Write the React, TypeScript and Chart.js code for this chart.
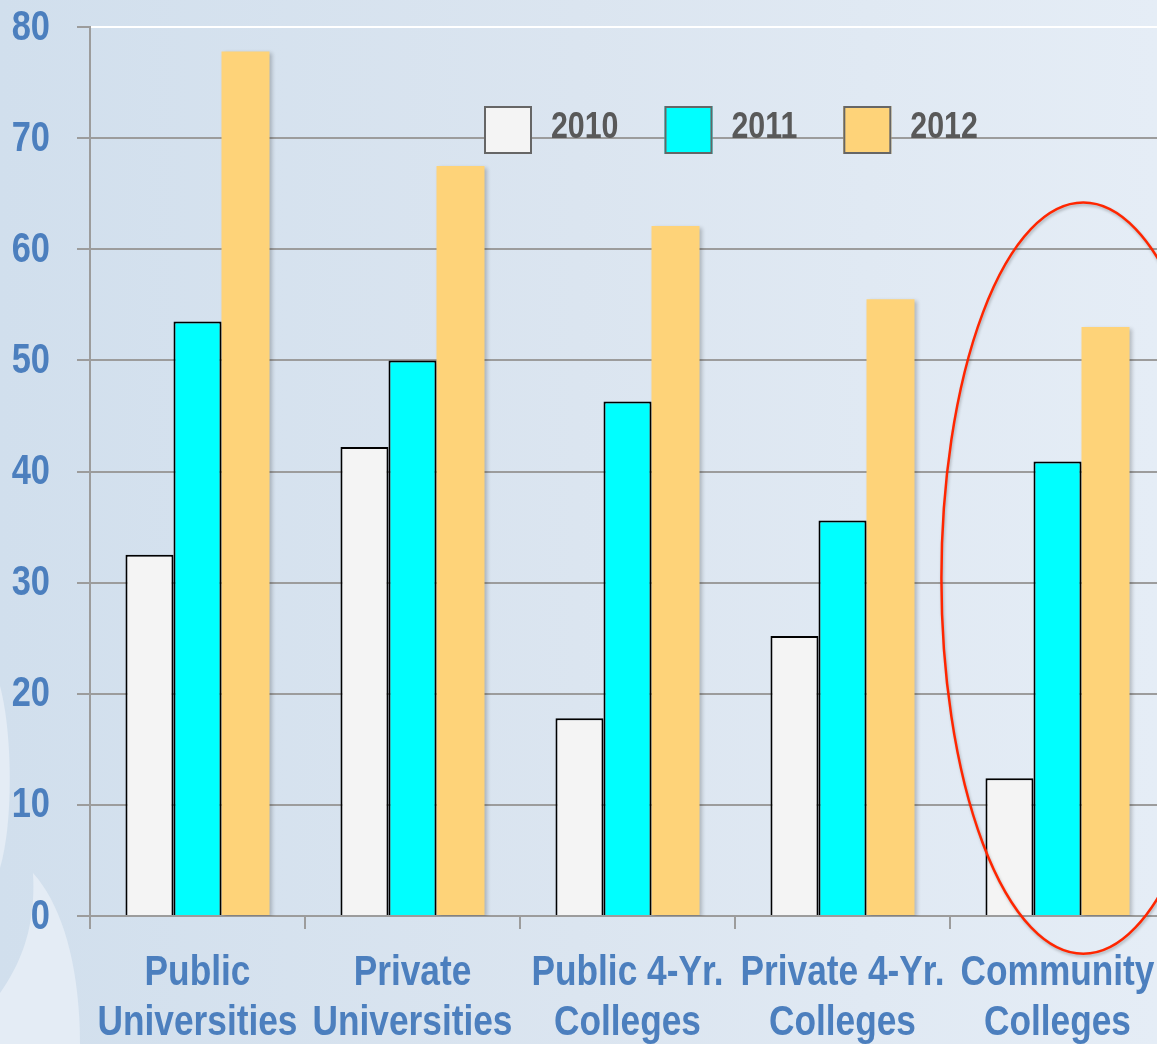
import React, { useEffect, useRef } from 'react';
import { Chart, registerables } from 'chart.js';
Chart.register(...registerables);

const categories: string[][] = [
  ['Public', 'Universities'],
  ['Private', 'Universities'],
  ['Public 4-Yr.', 'Colleges'],
  ['Private 4-Yr.', 'Colleges'],
  ['Community', 'Colleges'],
];
const seriesLabels = ['2010', '2011', '2012'];
const values2010 = [32.5, 42.2, 17.8, 25.2, 12.4];
const values2011 = [53.5, 50.0, 46.3, 35.6, 40.9];
const values2012 = [77.8, 67.5, 62.1, 55.5, 53.0];
const yTicks = [0, 10, 20, 30, 40, 50, 60, 70, 80];

const FONT = "'Liberation Sans', Arial, sans-serif";
const NARROW = 0.82;
const LABEL_BLUE = '#4c7fbe';
const GRID = '#9c9c9c';

function narrowText(ctx: any, text: string, x: number, y: number, align: string) {
  ctx.save();
  ctx.translate(x, y);
  ctx.scale(NARROW, 1);
  ctx.textAlign = align;
  ctx.fillText(text, 0, 0);
  ctx.restore();
}

const axisLabelPlugin = {
  id: 'narrowAxisLabels',
  afterDraw(chart: any) {
    const { ctx } = chart;
    const xs = chart.scales.x;
    const ys = chart.scales.y;
    ctx.save();
    ctx.fillStyle = LABEL_BLUE;
    ctx.textBaseline = 'middle';
    ctx.font = `bold 42px ${FONT}`;
    ys.ticks.forEach((t: any) => {
      narrowText(ctx, String(t.value), ys.right - 40, ys.getPixelForValue(t.value) + 1, 'right');
    });
    ctx.font = `bold 43px ${FONT}`;
    const base = ys.getPixelForValue(0);
    (chart.data.labels as string[][]).forEach((lines, i) => {
      const cx = xs.getPixelForValue(i);
      lines.forEach((line, j) => {
        narrowText(ctx, line, cx, base + 57 + j * 50, 'center');
      });
    });
    ctx.restore();
  },
};

const legendPlugin = {
  id: 'insideLegend',
  afterDraw(chart: any) {
    const { ctx, chartArea } = chart;
    ctx.save();
    ctx.font = `bold 37px ${FONT}`;
    ctx.textBaseline = 'middle';
    let x = chartArea.left + 394;
    const top = chartArea.top + 79;
    chart.data.datasets.forEach((ds: any) => {
      ctx.fillStyle = ds.backgroundColor;
      ctx.fillRect(x, top, 48, 48);
      ctx.lineWidth = 2;
      ctx.strokeStyle = '#666666';
      ctx.strokeRect(x + 1, top + 1, 46, 46);
      ctx.fillStyle = '#595959';
      narrowText(ctx, ds.label, x + 67, top + 22, 'left');
      const w = ctx.measureText(ds.label).width * NARROW;
      x += 67 + w + 46;
    });
    ctx.restore();
  },
};

const ellipsePlugin = {
  id: 'highlightEllipse',
  afterDraw(chart: any) {
    const { ctx } = chart;
    const xs = chart.scales.x;
    const ys = chart.scales.y;
    const catW = xs.getPixelForValue(1) - xs.getPixelForValue(0);
    const cx = xs.getPixelForValue(4) + catW * 0.12;
    const cy = ys.getPixelForValue(30.4);
    const ry = ys.getPixelForValue(0) - ys.getPixelForValue(33.8);
    const rx = catW * 0.66;
    ctx.save();
    ctx.shadowColor = 'rgba(0,0,0,0.25)';
    ctx.shadowBlur = 3;
    ctx.shadowOffsetX = 1;
    ctx.shadowOffsetY = 2;
    ctx.beginPath();
    ctx.ellipse(cx, cy, rx, ry, 0, 0, Math.PI * 2);
    ctx.strokeStyle = '#ff2600';
    ctx.lineWidth = 2.5;
    ctx.stroke();
    ctx.restore();
  },
};

const shadowPlugin = {
  id: 'barShadow',
  beforeDatasetsDraw(chart: any) {
    const ctx = chart.ctx;
    ctx.save();
    ctx.shadowColor = 'rgba(0,0,0,0.22)';
    ctx.shadowBlur = 4;
    ctx.shadowOffsetX = 2;
    ctx.shadowOffsetY = 2;
  },
  afterDatasetsDraw(chart: any) {
    chart.ctx.restore();
  },
};

export default function App() {
  const ref = useRef<HTMLCanvasElement | null>(null);

  useEffect(() => {
    document.body.style.margin = '0';
    const canvas = ref.current;
    if (!canvas) return;
    const chart = new Chart(canvas, {
      type: 'bar',
      data: {
        labels: categories,
        datasets: [
          {
            label: seriesLabels[0],
            data: values2010,
            backgroundColor: '#f4f4f4',
            borderColor: '#000000',
            borderWidth: 2,
          },
          {
            label: seriesLabels[1],
            data: values2011,
            backgroundColor: '#00ffff',
            borderColor: '#000000',
            borderWidth: 2,
          },
          {
            label: seriesLabels[2],
            data: values2012,
            backgroundColor: '#fed379',
            borderWidth: 0,
          },
        ],
      },
      plugins: [shadowPlugin, legendPlugin, ellipsePlugin, axisLabelPlugin],
      options: {
        responsive: false,
        animation: false,
        devicePixelRatio: 1,
        layout: { padding: { top: 27, right: 10, left: 0, bottom: 0 } },
        datasets: {
          bar: {
            categoryPercentage: 0.67,
            barPercentage: 1.0,
            borderSkipped: 'start',
          },
        },
        plugins: {
          legend: { display: false },
          tooltip: { enabled: false },
        },
        scales: {
          x: {
            offset: true,
            grid: {
              display: true,
              offset: true,
              drawOnChartArea: false,
              drawTicks: true,
              tickLength: 13,
              color: GRID,
              lineWidth: 2,
            },
            border: { display: true, color: GRID, width: 2 },
            ticks: { display: false },
            afterFit(scale: any) {
              scale.height = 128;
            },
          },
          y: {
            min: 0,
            max: 80,
            afterBuildTicks(scale: any) {
              scale.ticks = yTicks.map((v) => ({ value: v }));
            },
            grid: {
              color: (c: any) => (c.tick && c.tick.value === 80 ? '#ffffff' : GRID),
              tickColor: GRID,
              lineWidth: 2,
              drawTicks: true,
              tickLength: 13,
            },
            border: { display: true, color: GRID, width: 2 },
            ticks: { display: false },
            afterFit(scale: any) {
              scale.width = 90;
            },
          },
        },
      },
    } as any);
    return () => chart.destroy();
  }, []);

  return (
    <div
      style={{
        position: 'fixed',
        left: 0,
        top: 0,
        width: 1157,
        height: 1044,
        overflow: 'hidden',
        background: 'linear-gradient(to right, #d1dfed 0%, #dbe5f0 50%, #e5edf6 100%)',
      }}
    >
      <svg
        width={1157}
        height={1044}
        style={{ position: 'absolute', left: 0, top: 0 }}
      >
        <path d="M0,686 C12,730 14,820 0,868 Z" fill="#e4ecf5" />
        <path
          d="M33,873 C62,905 80,965 80,1044 L0,1044 L0,993 C22,962 36,925 33,873 Z"
          fill="#e4ecf5"
        />
      </svg>
      <canvas
        ref={ref}
        width={1175}
        height={1044}
        style={{ position: 'absolute', left: 0, top: 0, width: 1175, height: 1044 }}
      />
    </div>
  );
}
